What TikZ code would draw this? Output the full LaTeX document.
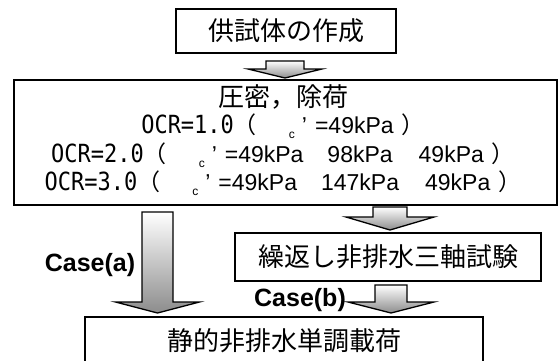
\documentclass[tikz,border=0pt]{standalone}
\usepackage{fontspec}
\setmainfont{Liberation Sans}
\newfontfamily\jfont{Noto Sans CJK JP}
\newfontfamily\ocrfont{DejaVu Sans Mono}[FakeStretch=0.88]
\newcommand\subc{\raisebox{-5pt}{\fontsize{12}{12}\selectfont c}}
\newcommand\ocrpart[1]{{\fontsize{25}{25}\ocrfont #1}}
\newcommand\jp[1]{{\jfont #1}}
\newcommand\blockarrow[6]{%
  \path[barrow] ({#1-#5},#2) -- ({#1+#5},#2) -- ({#1+#5},#3) -- ({#1+#6},#3)
    -- (#1,#4) -- ({#1-#6},#3) -- ({#1-#5},#3) -- cycle;}
\begin{document}
\begin{tikzpicture}[x=1pt,y=-1pt,
  boxnode/.style={draw, line width=1.5pt, inner sep=0pt, font=\fontsize{26}{26}\jfont},
  barrow/.style={draw, line width=1.3pt, line join=miter, top color=white, bottom color=black!45},
  linetext/.style={inner sep=0pt, font=\fontsize{23}{23}\selectfont, anchor=center},
  casetext/.style={inner sep=0pt, font=\fontsize{25}{25}\selectfont\bfseries}]
\useasboundingbox (0,0) rectangle (560,360);
\fill[white] (0,0) rectangle (560,360);
% boxes
\node[boxnode, minimum width=220pt, minimum height=44pt] (prep) at (286,31) {供試体の作成};
\node[boxnode, minimum width=543pt, minimum height=125pt] (cons) at (285.5,142.5) {};
\node[boxnode, minimum width=306pt, minimum height=48pt] (cyc) at (388,257) {繰返し非排水三軸試験};
\node[boxnode, minimum width=398pt, minimum height=54pt] (stat) at (284,344) {};
\node[inner sep=0pt, font=\fontsize{26}{26}\jfont] (stattext) at (284,341) {静的非排水単調載荷};
% texts inside consolidation box
\node[inner sep=0pt, font=\fontsize{26}{26}\jfont] (t0) at (283,97) {圧密，除荷};
\node[linetext] (t1) at (283,126) {\ocrpart{OCR=1.0}\jp{（}\hspace{32pt}\subc\hspace{7pt}’\hspace{8pt}=49kPa\hspace{8pt}\jp{）}};
\node[linetext] (t2) at (283,155) {\ocrpart{OCR=2.0}\jp{（}\hspace{32pt}\subc\hspace{7pt}’\hspace{8pt}=49kPa\hspace{24pt}98kPa\hspace{26pt}49kPa\hspace{8pt}\jp{）}};
\node[linetext] (t3) at (283,183) {\ocrpart{OCR=3.0}\jp{（}\hspace{32pt}\subc\hspace{7pt}’\hspace{8pt}=49kPa\hspace{24pt}147kPa\hspace{26pt}49kPa\hspace{8pt}\jp{）}};
% block arrows
\blockarrow{285}{61}{69}{78}{19}{37}
\blockarrow{157.5}{212}{302}{313}{15.5}{42}
\blockarrow{390}{207}{217}{230}{17}{44}
\blockarrow{391}{285}{302}{313}{16}{43}
% case labels
\node[casetext] (ca) at (90,265) {Case(a)};
\node[casetext] (cb) at (300,300) {Case(b)};
\end{tikzpicture}
\end{document}
